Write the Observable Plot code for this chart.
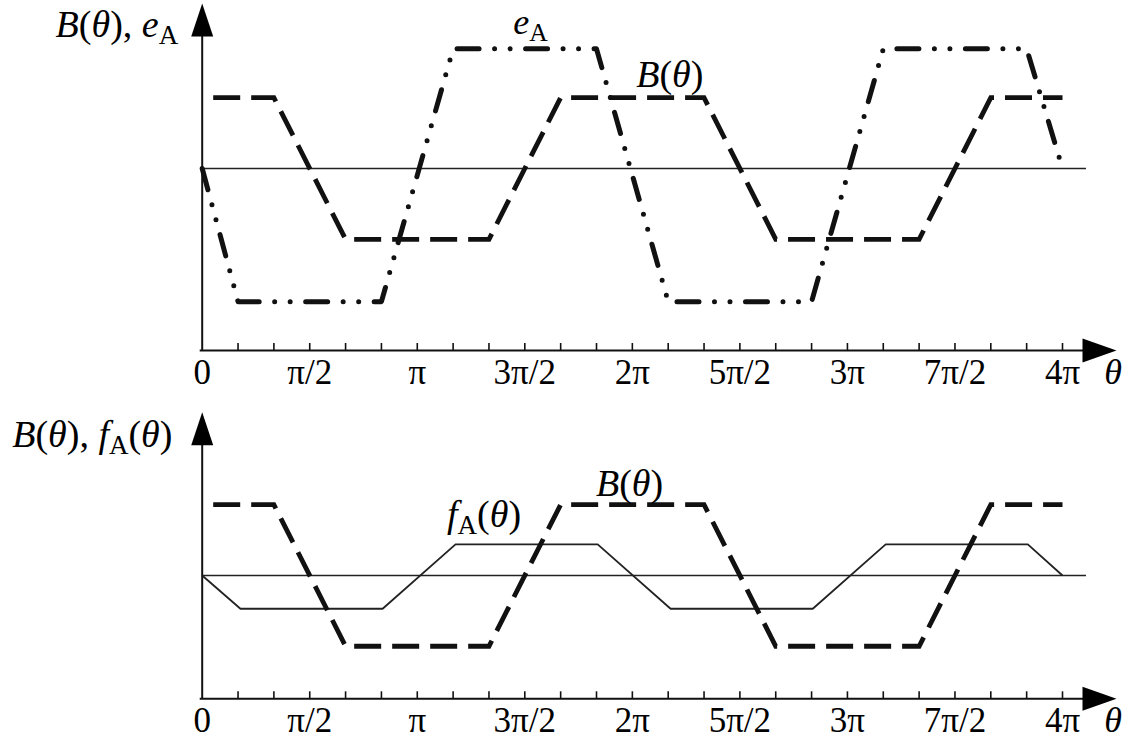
<!DOCTYPE html>
<html><head><meta charset="utf-8">
<script src="https://cdn.jsdelivr.net/npm/d3@7"></script>
<script src="https://cdn.jsdelivr.net/npm/@observablehq/plot@0.6"></script>
<style>
body{margin:0;background:#fff;}
#chart{position:relative;width:1131px;height:744px;background:#fff;}
#chart svg{display:block;}
</style></head><body><div id="chart"></div>
<script>
// ---- data (θ in degrees, values relative to B amplitude) ----
const thetaB = [0, 60, 120, 240, 300, 420, 480, 600, 660, 720];
const valB   = [1, 1, -1, -1, 1, 1, -1, -1, 1, 1];
const thetaE = [0, 30, 150, 210, 330, 390, 510, 570, 690, 720];
const valE   = [0, -1.88, -1.88, 1.69, 1.69, -1.88, -1.88, 1.69, 1.69, 0];
const thetaF = [0, 32, 151, 212, 331, 392, 511, 572, 691, 720];
const valF   = [0, -0.47, -0.47, 0.44, 0.44, -0.47, -0.47, 0.44, 0.44, 0];
const minorTicks = [30, 60, 90, 120, 150, 180, 210, 240, 270, 300, 330, 360, 390, 420, 450, 480, 510, 540, 570, 600, 630, 660, 690, 720];
const tickLabelTheta = [0, 90, 180, 270, 360, 450, 540, 630, 720];
const tickLabels = ["0", "π/2", "π", "3π/2", "2π", "5π/2", "3π", "7π/2", "4π"];
const topLabels = ["B(θ), eA", "eA", "B(θ)"];
const botLabels = ["B(θ), fA(θ)", "fA(θ)", "B(θ)"];

// rich-text definitions (i = italic, r = roman, s = roman subscript)
const rich = {
  "B(θ), eA": [["B","i"],["(","r"],["θ","i"],[")","r"],[", ","r"],["e","i"],["A","s"]],
  "eA": [["e","i"],["A","s"]],
  "B(θ)": [["B","i"],["(","r"],["θ","i"],[")","r"]],
  "B(θ), fA(θ)": [["B","i"],["(","r"],["θ","i"],[")","r"],[", ","r"],["f","i"],["A","s"],["(","r"],["θ","i"],[")","r"]],
  "fA(θ)": [["f","i"],["A","s"],["(","r"],["θ","i"],[")","r"]]
};

const FONT = "'Liberation Serif','Times New Roman',serif";
const W = 1131, ML = 201.7, MR = 69;

function panel({height, yDomain, mTop, mBottom, curves, labels, labelTheta, labelVal, labelSize}) {
  const pxX = (W - ML - MR) / 720;
  const pxY = (height - mTop - mBottom) / (yDomain[1] - yDomain[0]);
  const [yMin, yMax] = yDomain;
  const dx = p => p / pxX, dy = p => p / pxY;
  const vArrow = [
    {x: 0, y: yMax}, {x: -dx(11), y: yMax - dy(33)}, {x: dx(11), y: yMax - dy(33)}, {x: 0, y: yMax}
  ];
  const hArrow = [
    {x: 720 + dx(54), y: yMin}, {x: 720 + dx(20), y: yMin + dy(12)}, {x: 720 + dx(20), y: yMin - dy(12)}, {x: 720 + dx(54), y: yMin}
  ];
  const marks = [
    Plot.ruleY([0], {x1: 0, x2: 720 + dx(24), stroke: "#222", strokeWidth: 1.6}),
    Plot.ruleY([yMin], {x1: -dx(2), x2: 720 + dx(22), stroke: "#111", strokeWidth: 2}),
    Plot.ruleX([0], {y1: yMin, y2: yMax - dy(30), stroke: "#111", strokeWidth: 2}),
    Plot.ruleX(minorTicks, {x: d => d, y1: yMin, y2: yMin + dy(7), stroke: "#111", strokeWidth: 1.6}),
    Plot.line(vArrow, {x: "x", y: "y", fill: "#000", stroke: "none"}),
    Plot.line(hArrow, {x: "x", y: "y", fill: "#000", stroke: "none"}),
    ...curves,
    Plot.text(tickLabels, {x: (d, i) => tickLabelTheta[i], y: yMin, text: d => d, dy: 22, lineAnchor: "middle",
      fontSize: 35, fontFamily: FONT, fill: "#000"}),
    Plot.text(["θ"], {x: 720 + dx(50.7), y: yMin, text: d => d, dy: 22, lineAnchor: "middle",
      fontSize: 36, fontFamily: FONT, fontStyle: "italic", fill: "#000"}),
    Plot.text(labels, {x: (d, i) => labelTheta[i], y: (d, i) => labelVal[i], text: d => d,
      textAnchor: "start", lineAnchor: "bottom", fontSize: (d, i) => labelSize[i], fontFamily: FONT, fill: "#000"})
  ];
  return Plot.plot({
    width: W, height, marginLeft: ML, marginRight: MR, marginTop: mTop, marginBottom: mBottom,
    x: {domain: [0, 720], axis: null},
    y: {domain: yDomain, axis: null},
    style: {fontFamily: FONT, background: "#fff", overflow: "visible"},
    marks
  });
}

const bLine = (stroke) => Plot.line(thetaB, {x: d => d, y: (d, i) => valB[i], stroke, strokeWidth: 4.8,
  strokeDasharray: "27,11", strokeDashoffset: 27, strokeLinecap: "butt", strokeLinejoin: "miter", strokeMiterlimit: 4});

const topPanel = panel({
  height: 400, yDomain: [-2.57, 2.33], mTop: 3, mBottom: 50,
  labels: topLabels, labelTheta: [-122.7, 260.4, 363.2], labelVal: [1.864, 1.906, 1.144], labelSize: [38, 36, 38],
  curves: [
    bLine("#111"),
    Plot.line(thetaE, {x: d => d, y: (d, i) => valE[i], stroke: "#111", strokeWidth: 5,
      strokeDasharray: "22,15.5,0,15.5,0,15.5", strokeLinecap: "round", strokeLinejoin: "round"})
  ]
});

const bottomPanel = panel({
  height: 344, yDomain: [-1.742, 2.306], mTop: 11.7, mBottom: 45.7,
  labels: botLabels, labelTheta: [-159, 204.9, 329.5], labelVal: [1.81, 0.68, 1.12], labelSize: [38, 38, 38],
  curves: [
    Plot.line(thetaF, {x: d => d, y: (d, i) => valF[i], stroke: "#222", strokeWidth: 1.8,
      strokeLinejoin: "miter", strokeLinecap: "butt"}),
    bLine("#111")
  ]
});

const root = document.getElementById("chart");
root.appendChild(topPanel);
root.appendChild(bottomPanel);

// convert labels to rich text (italic symbols, roman subscripts)
d3.select(root).selectAll("text").each(function() {
  const key = this.textContent;
  const parts = rich[key];
  if (!parts) return;
  const t = d3.select(this);
  t.text(null);
  let shifted = false;
  for (const [s, kind] of parts) {
    const sp = t.append("tspan").text(s);
    if (kind === "i") sp.attr("font-style", "italic");
    if (kind === "s") {
      sp.attr("font-size", "0.71em").attr("dy", 7);
      shifted = true;
    } else if (shifted) {
      sp.attr("dy", -7);
      shifted = false;
    }
  }
});
</script></body></html>
